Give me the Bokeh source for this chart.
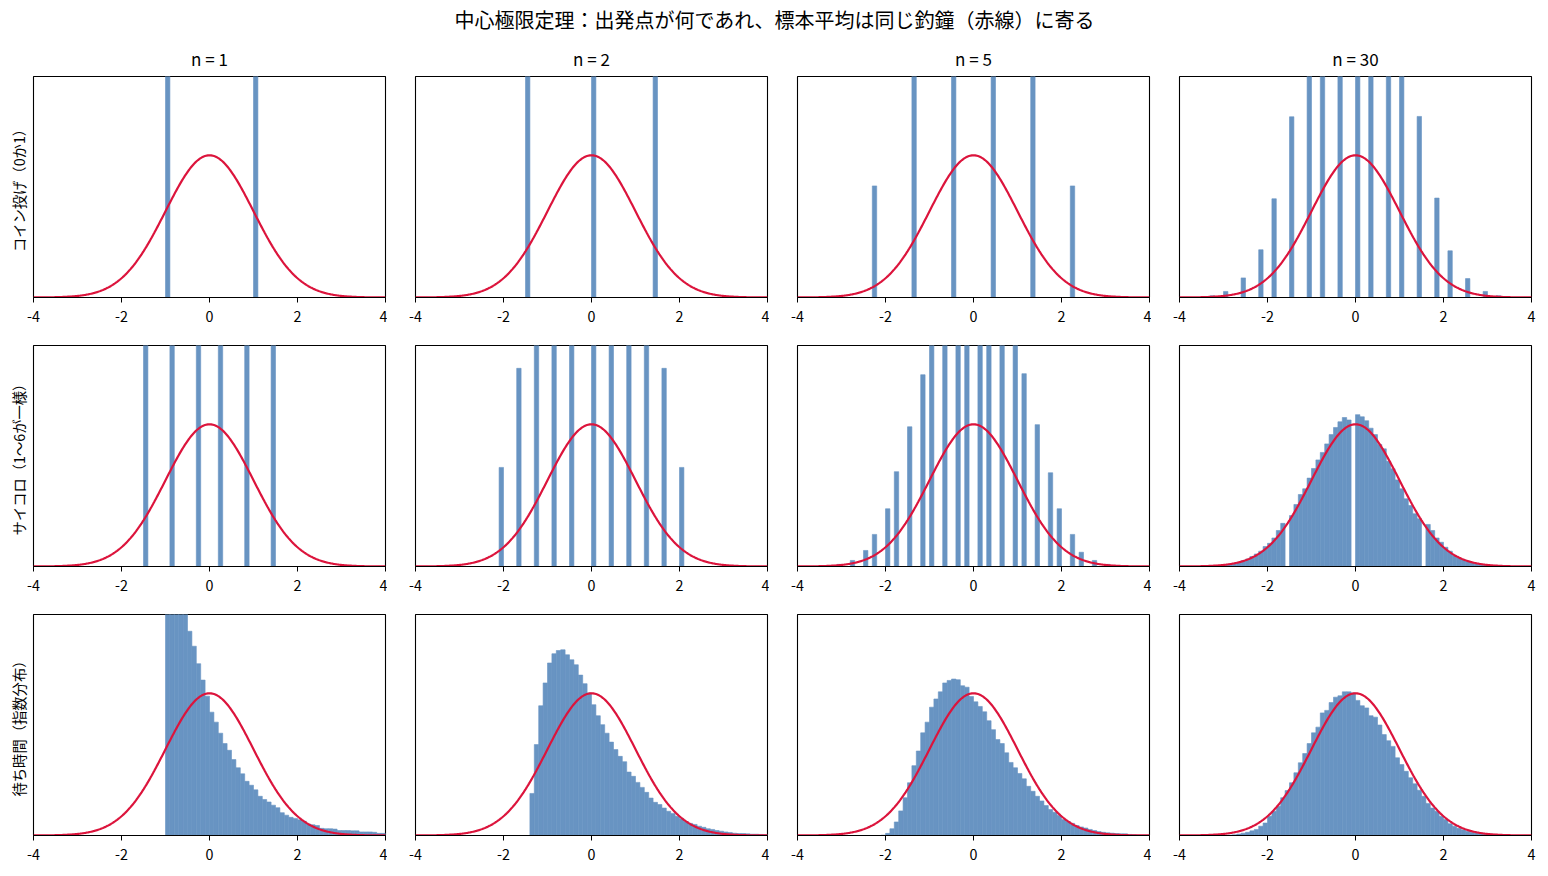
import numpy as np
from bokeh.plotting import figure
from bokeh.models import Range1d, FixedTicker, Title
from bokeh.layouts import column, row
from bokeh.embed import file_html
from bokeh.resources import INLINE
from bokeh.core.properties import value

# ---------------- data (bin left edges, width 0.1, and densities) ----------------
BIN_W = 0.1
col_titles = ["n = 1", "n = 2", "n = 5", "n = 30"]
row_labels = ["コイン投げ（0か1）", "サイコロ（1〜6が一様）", "待ち時間（指数分布）"]
main_title = "中心極限定理：出発点が何であれ、標本平均は同じ釣鐘（赤線）に寄る"
tick_vals = [-4, -2, 0, 2, 4]
tick_text = ["-4", "-2", "0", "2", "4"]

# coin flips
coin1_left = [-1.0, 1.0]
coin1_dens = [5.0, 5.0]
coin2_left = [-1.5, 0.0, 1.4]
coin2_dens = [2.5, 5.0, 2.5]
coin5_left = [-2.3, -1.4, -0.5, 0.4, 1.3, 2.2]
coin5_dens = [0.313, 1.56, 3.12, 3.12, 1.56, 0.313]
coin30_left = [-3.3, -3.0, -2.6, -2.2, -1.9, -1.5, -1.1, -0.8, -0.4, 0.0,
               0.3, 0.7, 1.0, 1.4, 1.8, 2.1, 2.5, 2.9, 3.2]
coin30_dens = [0.005, 0.017, 0.055, 0.134, 0.277, 0.507, 0.81, 1.12, 1.35, 1.44,
               1.35, 1.12, 0.81, 0.508, 0.279, 0.131, 0.053, 0.017, 0.005]

# dice
dice1_left = [-1.5, -0.9, -0.3, 0.2, 0.8, 1.4]
dice1_dens = [1.67, 1.67, 1.67, 1.67, 1.67, 1.67]
dice2_left = [-2.1, -1.7, -1.3, -0.9, -0.5, 0.0, 0.4, 0.8, 1.2, 1.6, 2.0]
dice2_dens = [0.278, 0.556, 0.83, 1.11, 1.39, 1.67, 1.39, 1.11, 0.83, 0.556, 0.278]
dice5_left = [-3.3, -3.1, -2.8, -2.5, -2.3, -2.0, -1.8, -1.5, -1.2, -1.0, -0.7, -0.4, -0.2,
              0.1, 0.3, 0.6, 0.9, 1.1, 1.4, 1.7, 1.9, 2.2, 2.4, 2.7, 3.0, 3.2]
dice5_dens = [0.001, 0.006, 0.017, 0.045, 0.090, 0.162, 0.266, 0.392, 0.538, 0.69, 0.84, 0.95, 1.0,
              1.0, 0.95, 0.84, 0.69, 0.541, 0.398, 0.263, 0.162, 0.090, 0.040, 0.017, 0.006, 0.001]
dice30_start = -3.2
dice30_dens = [0.001, 0.002, 0.004, 0.0056, 0.008, 0.012, 0.016, 0.021, 0.028, 0.035,
               0.043, 0.056, 0.065, 0.080, 0.101, 0.121, 0.0, 0.143, 0.174, 0.202,
               0.218, 0.248, 0.275, 0.299, 0.320, 0.344, 0.370, 0.390, 0.406, 0.418,
               0.411, 0.0, 0.426, 0.420, 0.409, 0.388, 0.370, 0.342, 0.330, 0.295,
               0.274, 0.243, 0.218, 0.190, 0.171, 0.148, 0.134, 0.0, 0.118, 0.101,
               0.080, 0.068, 0.054, 0.043, 0.031, 0.024, 0.019, 0.014, 0.010, 0.0075,
               0.0056, 0.004, 0.002, 0.001]

# exponential waiting times
exp1_start = -1.0
exp1_dens = [0.95, 0.86, 0.78, 0.70, 0.64, 0.573, 0.531, 0.482, 0.436, 0.391,
             0.346, 0.318, 0.287, 0.258, 0.239, 0.213, 0.190, 0.173, 0.152, 0.141,
             0.128, 0.110, 0.101, 0.094, 0.085, 0.078, 0.064, 0.057, 0.051, 0.048,
             0.044, 0.040, 0.032, 0.030, 0.028, 0.020, 0.019, 0.019, 0.018, 0.014,
             0.014, 0.014, 0.013, 0.013, 0.010, 0.010, 0.010, 0.009, 0.006, 0.006]
exp2_start = -1.4
exp2_dens = [0.118, 0.255, 0.364, 0.428, 0.484, 0.510, 0.519, 0.521, 0.507, 0.493,
             0.479, 0.450, 0.426, 0.400, 0.367, 0.336, 0.311, 0.287, 0.262, 0.241,
             0.222, 0.207, 0.178, 0.166, 0.149, 0.135, 0.121, 0.105, 0.093, 0.087,
             0.077, 0.068, 0.062, 0.054, 0.047, 0.039, 0.034, 0.031, 0.026, 0.023,
             0.019, 0.017, 0.014, 0.012, 0.010, 0.0085, 0.0065, 0.0056, 0.0056, 0.0047,
             0.0037, 0.0037, 0.003, 0.002]
exp5_start = -2.1
exp5_dens = [0.001, 0.006, 0.019, 0.038, 0.069, 0.106, 0.148, 0.196, 0.237, 0.288,
             0.318, 0.360, 0.383, 0.403, 0.428, 0.435, 0.439, 0.437, 0.420, 0.416,
             0.390, 0.375, 0.362, 0.347, 0.322, 0.297, 0.269, 0.258, 0.232, 0.205,
             0.190, 0.174, 0.159, 0.138, 0.124, 0.110, 0.097, 0.084, 0.073, 0.065,
             0.056, 0.045, 0.039, 0.034, 0.028, 0.024, 0.021, 0.017, 0.014, 0.011,
             0.009, 0.0075, 0.0065, 0.0056, 0.0047, 0.0047, 0.003, 0.002, 0.001, 0.001,
             0.001]
exp30_start = -2.9
exp30_dens = [0.001, 0.002, 0.004, 0.0065, 0.009, 0.013, 0.017, 0.026, 0.035, 0.054,
              0.068, 0.082, 0.106, 0.126, 0.148, 0.176, 0.204, 0.230, 0.258, 0.288,
              0.304, 0.344, 0.351, 0.373, 0.388, 0.392, 0.403, 0.403, 0.400, 0.379,
              0.364, 0.358, 0.336, 0.332, 0.310, 0.283, 0.266, 0.250, 0.218, 0.199,
              0.180, 0.162, 0.145, 0.127, 0.110, 0.090, 0.077, 0.068, 0.054, 0.045,
              0.033, 0.026, 0.020, 0.016, 0.012, 0.009, 0.007, 0.006, 0.005, 0.004,
              0.003, 0.002, 0.001]


def edges_from(start, dens):
    return list(np.round(start + BIN_W * np.arange(len(dens)), 2))


panels = [
    [(coin1_left, coin1_dens), (coin2_left, coin2_dens), (coin5_left, coin5_dens), (coin30_left, coin30_dens)],
    [(dice1_left, dice1_dens), (dice2_left, dice2_dens), (dice5_left, dice5_dens),
     (edges_from(dice30_start, dice30_dens), dice30_dens)],
    [(edges_from(exp1_start, exp1_dens), exp1_dens), (edges_from(exp2_start, exp2_dens), exp2_dens),
     (edges_from(exp5_start, exp5_dens), exp5_dens), (edges_from(exp30_start, exp30_dens), exp30_dens)],
]

# standard normal reference curve
curve_x = np.linspace(-4, 4, 401)
curve_y = np.exp(-curve_x ** 2 / 2) / np.sqrt(2 * np.pi)

FONT = "Noto Sans CJK JP"
BAR = "#6894C2"
RED = "#DC143C"
Y_TOP = 0.62


def make_panel(left, dens, r, c):
    top_border = 38 if r == 0 else 18
    b_left = 33 if c == 0 else 28
    b_right = 8 if c == 3 else 2
    p = figure(frame_width=352, frame_height=221,
               x_range=Range1d(-4, 4), y_range=Range1d(0, Y_TOP),
               output_backend="svg", toolbar_location=None,
               min_border_left=b_left, min_border_right=b_right,
               min_border_top=top_border, min_border_bottom=30)
    p.background_fill_color = "white"
    p.border_fill_color = "white"
    p.outline_line_color = "black"
    p.outline_line_width = 1.1
    p.outline_line_alpha = 1.0
    p.xgrid.visible = False
    p.ygrid.visible = False
    p.yaxis.visible = False
    xa = p.xaxis[0]
    xa.ticker = FixedTicker(ticks=tick_vals)
    xa.major_label_overrides = {v: t for v, t in zip(tick_vals, tick_text)}
    xa.major_tick_in = 0
    xa.major_tick_out = 5
    xa.minor_tick_line_color = None
    xa.axis_line_color = "black"
    xa.major_tick_line_color = "black"
    xa.major_label_text_font = FONT
    xa.major_label_text_font_size = "14.3px"
    xa.major_label_text_color = "black"
    xa.major_label_standoff = 8

    right = [round(e + BIN_W, 2) for e in left]
    p.quad(left=left, right=right, bottom=0, top=dens,
           fill_color=BAR, line_color=BAR, line_width=0.6)
    p.line(curve_x, curve_y, line_color=RED, line_width=2.2)

    if r == 0:
        t = Title(text=col_titles[c], align="center", text_font=FONT,
                  text_font_size="17px", text_font_style="normal",
                  text_color="black", standoff=11)
        p.add_layout(t, "above")
    if c == 0:
        t = Title(text=row_labels[r], align="center", text_font=FONT,
                  text_font_size="14.3px", text_font_style="normal",
                  text_color="black", standoff=9)
        p.add_layout(t, "left")
    return p


rows = []
for r in range(3):
    figs = [make_panel(panels[r][c][0], panels[r][c][1], r, c) for c in range(4)]
    rows.append(row(*figs))

TW = 1540
title_fig = figure(width=TW, height=38, x_range=Range1d(0, TW), y_range=Range1d(0, 38),
                   output_backend="svg", toolbar_location=None,
                   min_border=0)
title_fig.outline_line_color = None
title_fig.axis.visible = False
title_fig.grid.visible = False
title_fig.text(x=[774], y=[19], text=[main_title], text_align="center",
               text_baseline="middle", text_font=value(FONT),
               text_font_size="20px", text_color="black")

layout = column(title_fig, *rows)
open("out.html", "w").write(file_html(layout, INLINE))
